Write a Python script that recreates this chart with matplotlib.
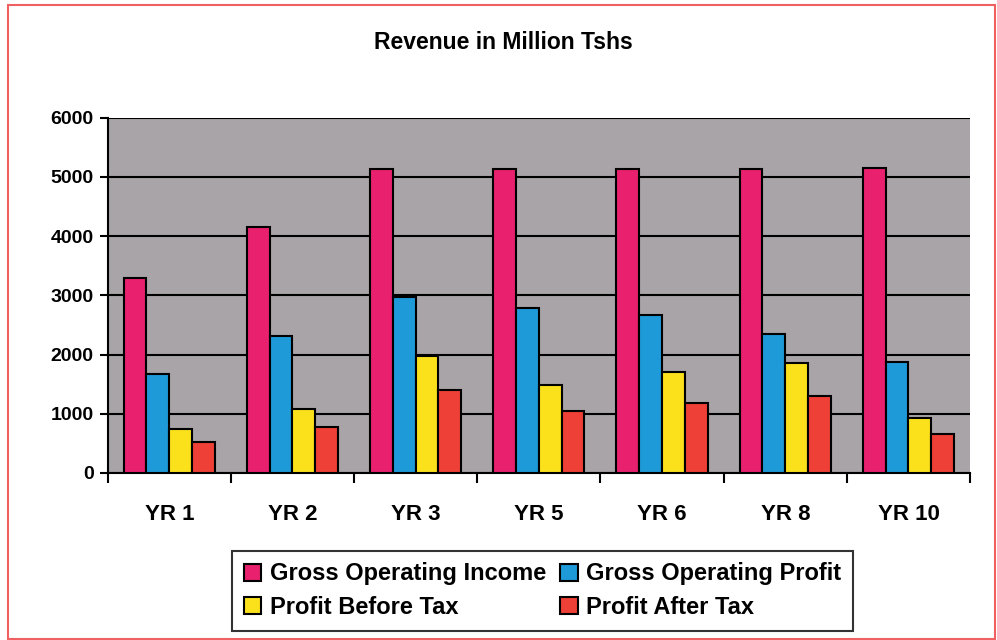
import matplotlib
matplotlib.use("Agg")
import matplotlib.pyplot as plt
import numpy as np
from matplotlib.patches import Rectangle

years = ["YR 1", "YR 2", "YR 3", "YR 5", "YR 6", "YR 8", "YR 10"]
gross_income = [3300, 4150, 5130, 5140, 5140, 5140, 5150]
gross_profit = [1680, 2320, 2980, 2790, 2670, 2350, 1880]
profit_before_tax = [750, 1080, 1980, 1490, 1700, 1850, 920]
profit_after_tax = [520, 780, 1400, 1050, 1190, 1300, 650]

series = [
    ("Gross Operating Income", gross_income, "#E8206E"),
    ("Gross Operating Profit", gross_profit, "#1E9AD8"),
    ("Profit Before Tax", profit_before_tax, "#FAE11C"),
    ("Profit After Tax", profit_after_tax, "#EE4036"),
]

plt.rcParams["font.family"] = ["Liberation Sans", "DejaVu Sans"]
plt.rcParams["font.weight"] = "bold"

fig = plt.figure(figsize=(9.97, 6.4), dpi=100)
ax = fig.add_axes([0.108, 0.261, 0.865, 0.555])
ax.set_facecolor("#A8A4A8")

x = np.arange(len(years))
w = 0.185
bars = []
for i, (name, vals, color) in enumerate(series):
    b = ax.bar(x + (i - 1.5) * w, vals, width=w, color=color, edgecolor="black",
               linewidth=1.5, label=name, zorder=3)
    bars.append(b)

ax.set_xlim(-0.5, len(years) - 0.5)
ax.set_ylim(0, 6000)
ax.set_yticks(range(0, 6001, 1000))
ax.yaxis.grid(True, color="black", linewidth=1.5, zorder=1)
ax.set_axisbelow(True)

# category labels centred, tick marks on the boundaries
ax.set_xticks(x)
ax.set_xticklabels(years, fontsize=16, fontweight="bold")
ax.tick_params(axis="x", length=0, pad=22)
ax.set_xticks(np.arange(-0.5, len(years), 1), minor=True)
ax.tick_params(axis="x", which="minor", length=7, width=1.5, direction="out")
ax.tick_params(axis="y", length=6, width=1.5, labelsize=14, pad=4)
for lbl in ax.get_yticklabels():
    lbl.set_fontweight("bold")

for side in ["top", "right"]:
    ax.spines[side].set_visible(False)
for side in ["left", "bottom"]:
    ax.spines[side].set_linewidth(1.5)

fig.text(0.505, 0.934, "Revenue in Million Tshs", ha="center", va="center",
         fontsize=16.5, fontweight="bold")

# row-wise legend order: income, profit / before tax, after tax
order = [0, 2, 1, 3]
leg = fig.legend([bars[k] for k in order], [series[k][0] for k in order],
                 loc="center", bbox_to_anchor=(0.544, 0.077), ncol=2,
                 frameon=True, fancybox=False, edgecolor="black",
                 fontsize=17, handlelength=0.75, handleheight=0.75,
                 handletextpad=0.35, columnspacing=0.6, labelspacing=0.45,
                 borderpad=0.5, borderaxespad=0)
leg.get_frame().set_linewidth(1.5)
for t in leg.get_texts():
    t.set_fontweight("bold")

# outer frame around the whole chart
fig.patches.append(Rectangle((0.008, 0.002), 0.99, 0.99, transform=fig.transFigure,
                             fill=False, edgecolor="#F06060", linewidth=1.5))

fig.savefig("out.png", dpi=100)
